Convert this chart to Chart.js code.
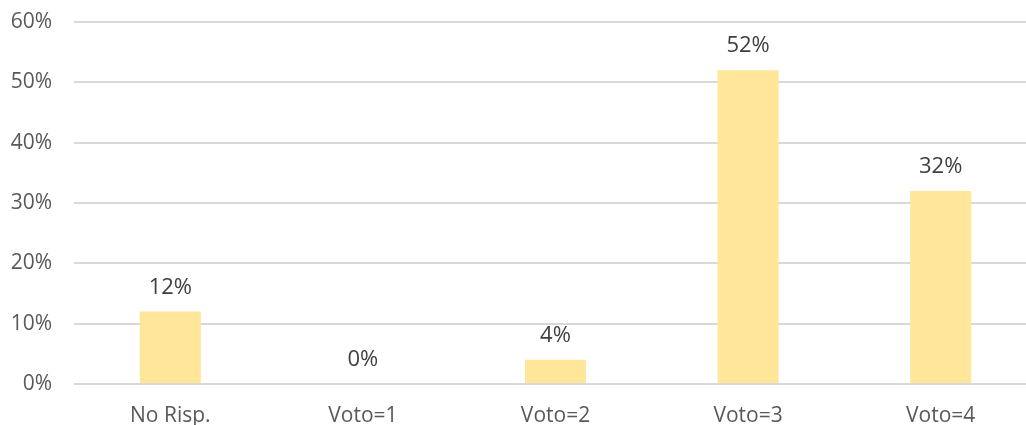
<!DOCTYPE html>
<html lang="it">
<head>
<meta charset="UTF-8">
<title>Voti</title>
<script src="https://cdn.jsdelivr.net/npm/chart.js"></script>
<style>
    html, body { margin: 0; padding: 0; background: #ffffff; overflow: hidden; }
    #wrap { width: 1026px; height: 425px; overflow: hidden; }
</style>
</head>
<body>
<div id="wrap"><canvas id="voteChart" width="1037" height="425"></canvas></div>
<script>
    const categories = ['No Risp.', 'Voto=1', 'Voto=2', 'Voto=3', 'Voto=4'];
    const shares = [0.12, 0, 0.04, 0.52, 0.32];
    const yTicks = [0, 0.1, 0.2, 0.3, 0.4, 0.5, 0.6];

    const pct = v => Math.round(v * 100) + '%';

    // draws the value above each bar
    const barLabels = {
        id: 'barLabels',
        afterDatasetsDraw(chart) {
            const ctx = chart.ctx;
            const meta = chart.getDatasetMeta(0);
            ctx.save();
            ctx.font = '22px "Open Sans"';
            ctx.fillStyle = '#404040';
            ctx.textAlign = 'center';
            ctx.textBaseline = 'alphabetic';
            meta.data.forEach((bar, i) => {
                const p = bar.getProps(['x', 'y'], true);
                ctx.fillText(pct(shares[i]), p.x, p.y - 18);
            });
            ctx.restore();
        }
    };

    new Chart(document.getElementById('voteChart'), {
        type: 'bar',
        data: {
            labels: categories,
            datasets: [{
                data: shares,
                backgroundColor: '#FFE699',
                borderWidth: 0,
                categoryPercentage: 1,
                barPercentage: 0.317
            }]
        },
        options: {
            responsive: false,
            animation: false,
            layout: { padding: { top: 22, right: 0, left: 0, bottom: 0 } },
            plugins: { legend: { display: false }, tooltip: { enabled: false } },
            scales: {
                x: {
                    grid: { display: false },
                    border: { display: false },
                    ticks: {
                        color: '#595959',
                        font: { family: 'Open Sans', size: 21 },
                        padding: 11
                    },
                    afterFit(scale) {
                        scale.height = 41;
                        scale.paddingRight = 0;
                        scale.paddingLeft = 0;
                    }
                },
                y: {
                    min: 0,
                    max: 0.6,
                    afterBuildTicks(scale) { scale.ticks = yTicks.map(v => ({ value: v })); },
                    grid: { color: '#d9d9d9', lineWidth: 2, drawTicks: false },
                    border: { display: false },
                    ticks: {
                        color: '#595959',
                        font: { family: 'Open Sans', size: 21 },
                        padding: 22,
                        callback: v => pct(v)
                    },
                    afterFit(scale) {
                        scale.width = 74;
                        scale.paddingTop = 0;
                        scale.paddingBottom = 0;
                    }
                }
            }
        },
        plugins: [barLabels]
    });
</script>
</body>
</html>
